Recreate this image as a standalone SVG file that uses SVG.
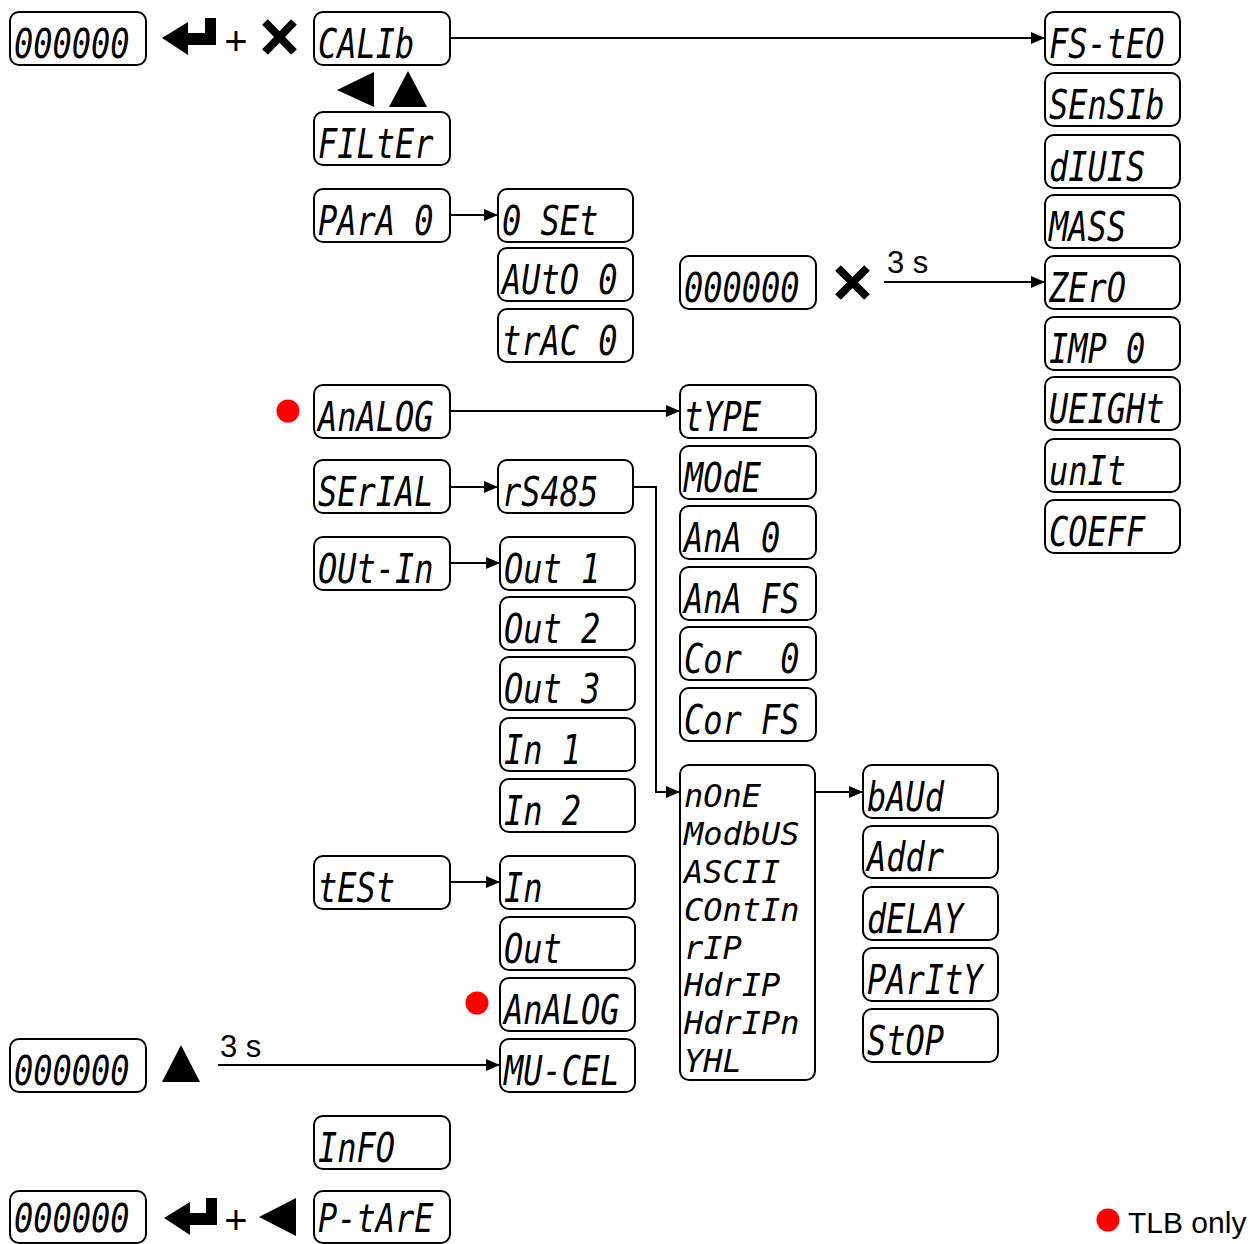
<svg xmlns="http://www.w3.org/2000/svg" width="1252" height="1244" viewBox="0 0 1252 1244">
<style>
.box{fill:#fff;stroke:#000;stroke-width:2}
.seg{font-family:"DejaVu Sans Mono","Liberation Mono",monospace;font-style:italic;font-size:32px;fill:#000}
.lbl{font-family:"Liberation Sans",Arial,sans-serif;font-size:31px;fill:#000}
.plus{font-family:"Liberation Sans",Arial,sans-serif;font-size:40px;fill:#000}
.con{fill:none;stroke:#000;stroke-width:2}
.sym{fill:#000}
.dot{fill:#f00}
</style>
<defs>
<marker id="ah" viewBox="0 0 14 12" refX="14" refY="6" markerWidth="14" markerHeight="12" markerUnits="userSpaceOnUse" orient="auto"><path d="M0,0 L14,6 L0,12 z" fill="#000"/></marker>
</defs>

<g id="connectors">
<path class="con" d="M450,38 H1045" marker-end="url(#ah)"/>
<path class="con" d="M450,215 H498" marker-end="url(#ah)"/>
<path class="con" d="M450,411 H680" marker-end="url(#ah)"/>
<path class="con" d="M450,487 H498" marker-end="url(#ah)"/>
<path class="con" d="M450,563 H500" marker-end="url(#ah)"/>
<path class="con" d="M634,487 H656 V792 H680" marker-end="url(#ah)"/>
<path class="con" d="M815,792 H863" marker-end="url(#ah)"/>
<path class="con" d="M450,882 H500" marker-end="url(#ah)"/>
<path class="con" d="M884,282 H1045" marker-end="url(#ah)"/>
<path class="con" d="M218,1065 H500" marker-end="url(#ah)"/>
<text class="lbl" x="887" y="273">3 s</text>
<text class="lbl" x="220" y="1057">3 s</text>
</g>

<g id="symbols">
<path class="sym" d="M162,38 L188,22 L188,33 L205,33 L205,18 L216,18 L216,45 L188,45 L188,55 Z"/>
<text class="plus" x="236" y="55" text-anchor="middle">+</text>
<path d="M265,22 L294,52 M294,22 L265,52" stroke="#000" stroke-width="8"/>
<path class="sym" d="M337,90 L374,72 L374,107 Z"/>
<path class="sym" d="M408,71 L389,107 L427,107 Z"/>
<path d="M838,268 L867,297 M867,268 L838,297" stroke="#000" stroke-width="8"/>
<path class="sym" d="M181,1045 L162,1082 L200,1082 Z"/>
<path class="sym" d="M164,1218 L190,1202 L190,1213 L206,1213 L206,1198 L217,1198 L217,1225 L190,1225 L190,1235 Z"/>
<text class="plus" x="236" y="1234" text-anchor="middle">+</text>
<path class="sym" d="M259,1217 L296,1198 L296,1236 Z"/>
</g>

<g id="notes">
<circle class="dot" cx="288" cy="411" r="11.5"/>
<circle class="dot" cx="477" cy="1003" r="11.5"/>
<circle class="dot" cx="1108" cy="1220" r="11.5"/>
<text class="lbl" x="1128" y="1233" style="font-size:30px">TLB only</text>
</g>

<g id="n-disp1"><rect class="box" x="10" y="12" width="136" height="53" rx="9"/><text class="seg" transform="translate(14,58) scale(1,1.25)">000000</text></g>
<g id="n-disp2"><rect class="box" x="680" y="256" width="136" height="53" rx="9"/><text class="seg" transform="translate(684,302) scale(1,1.25)">000000</text></g>
<g id="n-disp3"><rect class="box" x="10" y="1039" width="136" height="53" rx="9"/><text class="seg" transform="translate(14,1085) scale(1,1.25)">000000</text></g>
<g id="n-disp4"><rect class="box" x="10" y="1191" width="136" height="52" rx="9"/><text class="seg" transform="translate(14,1232) scale(1,1.2)">000000</text></g>

<g id="n-calib"><rect class="box" x="314" y="12" width="136" height="53" rx="9"/><text class="seg" transform="translate(318,58) scale(1,1.25)">CALIb</text></g>
<g id="n-filter"><rect class="box" x="314" y="112" width="136" height="53" rx="9"/><text class="seg" transform="translate(318,158) scale(1,1.25)">FILtEr</text></g>
<g id="n-para0"><rect class="box" x="314" y="189" width="136" height="53" rx="9"/><text class="seg" transform="translate(318,235) scale(1,1.25)">PArA 0</text></g>
<g id="n-analog"><rect class="box" x="314" y="385" width="136" height="53" rx="9"/><text class="seg" transform="translate(318,431) scale(1,1.25)">AnALOG</text></g>
<g id="n-serial"><rect class="box" x="314" y="460" width="136" height="53" rx="9"/><text class="seg" transform="translate(318,506) scale(1,1.25)">SErIAL</text></g>
<g id="n-outin"><rect class="box" x="314" y="537" width="136" height="53" rx="9"/><text class="seg" transform="translate(318,583) scale(1,1.25)">OUt-In</text></g>
<g id="n-test"><rect class="box" x="314" y="856" width="136" height="53" rx="9"/><text class="seg" transform="translate(318,902) scale(1,1.25)">tESt</text></g>
<g id="n-info"><rect class="box" x="314" y="1116" width="136" height="53" rx="9"/><text class="seg" transform="translate(318,1162) scale(1,1.25)">InFO</text></g>
<g id="n-ptare"><rect class="box" x="314" y="1191" width="136" height="52" rx="9"/><text class="seg" transform="translate(318,1232) scale(1,1.2)">P-tArE</text></g>

<g id="n-0set"><rect class="box" x="498" y="189" width="135" height="53" rx="9"/><text class="seg" transform="translate(502,235) scale(1,1.25)">0 SEt</text></g>
<g id="n-auto0"><rect class="box" x="498" y="248" width="135" height="53" rx="9"/><text class="seg" transform="translate(502,294) scale(1,1.25)">AUtO 0</text></g>
<g id="n-trac0"><rect class="box" x="498" y="309" width="135" height="53" rx="9"/><text class="seg" transform="translate(502,355) scale(1,1.25)">trAC 0</text></g>
<g id="n-rs485"><rect class="box" x="498" y="460" width="135" height="53" rx="9"/><text class="seg" transform="translate(502,506) scale(1,1.25)">rS485</text></g>
<g id="n-out1"><rect class="box" x="500" y="537" width="135" height="53" rx="9"/><text class="seg" transform="translate(504,583) scale(1,1.25)">Out 1</text></g>
<g id="n-out2"><rect class="box" x="500" y="597" width="135" height="53" rx="9"/><text class="seg" transform="translate(504,643) scale(1,1.25)">Out 2</text></g>
<g id="n-out3"><rect class="box" x="500" y="657" width="135" height="53" rx="9"/><text class="seg" transform="translate(504,703) scale(1,1.25)">Out 3</text></g>
<g id="n-in1"><rect class="box" x="500" y="718" width="135" height="53" rx="9"/><text class="seg" transform="translate(504,764) scale(1,1.25)">In 1</text></g>
<g id="n-in2"><rect class="box" x="500" y="779" width="135" height="53" rx="9"/><text class="seg" transform="translate(504,825) scale(1,1.25)">In 2</text></g>
<g id="n-tin"><rect class="box" x="500" y="856" width="135" height="53" rx="9"/><text class="seg" transform="translate(504,902) scale(1,1.25)">In</text></g>
<g id="n-tout"><rect class="box" x="500" y="917" width="135" height="53" rx="9"/><text class="seg" transform="translate(504,963) scale(1,1.25)">Out</text></g>
<g id="n-tanalog"><rect class="box" x="500" y="978" width="135" height="53" rx="9"/><text class="seg" transform="translate(504,1024) scale(1,1.25)">AnALOG</text></g>
<g id="n-mucel"><rect class="box" x="500" y="1039" width="135" height="53" rx="9"/><text class="seg" transform="translate(504,1085) scale(1,1.25)">MU-CEL</text></g>

<g id="n-type"><rect class="box" x="680" y="385" width="136" height="53" rx="9"/><text class="seg" transform="translate(684,431) scale(1,1.25)">tYPE</text></g>
<g id="n-mode"><rect class="box" x="680" y="446" width="136" height="53" rx="9"/><text class="seg" transform="translate(684,492) scale(1,1.25)">MOdE</text></g>
<g id="n-ana0"><rect class="box" x="680" y="506" width="136" height="53" rx="9"/><text class="seg" transform="translate(684,552) scale(1,1.25)">AnA 0</text></g>
<g id="n-anafs"><rect class="box" x="680" y="567" width="136" height="53" rx="9"/><text class="seg" transform="translate(684,613) scale(1,1.25)">AnA FS</text></g>
<g id="n-cor0"><rect class="box" x="680" y="627" width="136" height="53" rx="9"/><text class="seg" transform="translate(684,673) scale(1,1.25)" xml:space="preserve">Cor  0</text></g>
<g id="n-corfs"><rect class="box" x="680" y="688" width="136" height="53" rx="9"/><text class="seg" transform="translate(684,734) scale(1,1.25)">Cor FS</text></g>
<g id="n-protocol"><rect class="box" x="680" y="765" width="135" height="315" rx="9"/>
<text class="seg" x="684" y="807">nOnE</text>
<text class="seg" x="684" y="845">ModbUS</text>
<text class="seg" x="684" y="883">ASCII</text>
<text class="seg" x="684" y="921">COntIn</text>
<text class="seg" x="684" y="959">rIP</text>
<text class="seg" x="684" y="996">HdrIP</text>
<text class="seg" x="684" y="1034">HdrIPn</text>
<text class="seg" x="684" y="1072">YHL</text>
</g>

<g id="n-baud"><rect class="box" x="863" y="765" width="135" height="53" rx="9"/><text class="seg" transform="translate(867,811) scale(1,1.25)">bAUd</text></g>
<g id="n-addr"><rect class="box" x="863" y="826" width="135" height="52" rx="9"/><text class="seg" transform="translate(867,871) scale(1,1.25)">Addr</text></g>
<g id="n-delay"><rect class="box" x="863" y="887" width="135" height="53" rx="9"/><text class="seg" transform="translate(867,933) scale(1,1.25)">dELAY</text></g>
<g id="n-parity"><rect class="box" x="863" y="948" width="135" height="53" rx="9"/><text class="seg" transform="translate(867,994) scale(1,1.25)">PArItY</text></g>
<g id="n-stop"><rect class="box" x="863" y="1009" width="135" height="53" rx="9"/><text class="seg" transform="translate(867,1055) scale(1,1.25)">StOP</text></g>

<g id="n-fsteo"><rect class="box" x="1045" y="12" width="135" height="53" rx="9"/><text class="seg" transform="translate(1049,58) scale(1,1.25)">FS-tEO</text></g>
<g id="n-sensib"><rect class="box" x="1045" y="73" width="135" height="53" rx="9"/><text class="seg" transform="translate(1049,119) scale(1,1.25)">SEnSIb</text></g>
<g id="n-divis"><rect class="box" x="1045" y="135" width="135" height="53" rx="9"/><text class="seg" transform="translate(1049,181) scale(1,1.25)">dIUIS</text></g>
<g id="n-mass"><rect class="box" x="1045" y="195" width="135" height="53" rx="9"/><text class="seg" transform="translate(1049,241) scale(1,1.25)">MASS</text></g>
<g id="n-zero"><rect class="box" x="1045" y="256" width="135" height="53" rx="9"/><text class="seg" transform="translate(1049,302) scale(1,1.25)">ZErO</text></g>
<g id="n-imp0"><rect class="box" x="1045" y="317" width="135" height="53" rx="9"/><text class="seg" transform="translate(1049,363) scale(1,1.25)">IMP 0</text></g>
<g id="n-weight"><rect class="box" x="1045" y="377" width="135" height="53" rx="9"/><text class="seg" transform="translate(1049,423) scale(1,1.25)">UEIGHt</text></g>
<g id="n-unit"><rect class="box" x="1045" y="439" width="135" height="53" rx="9"/><text class="seg" transform="translate(1049,485) scale(1,1.25)">unIt</text></g>
<g id="n-coeff"><rect class="box" x="1045" y="500" width="135" height="53" rx="9"/><text class="seg" transform="translate(1049,546) scale(1,1.25)">COEFF</text></g>
</svg>
